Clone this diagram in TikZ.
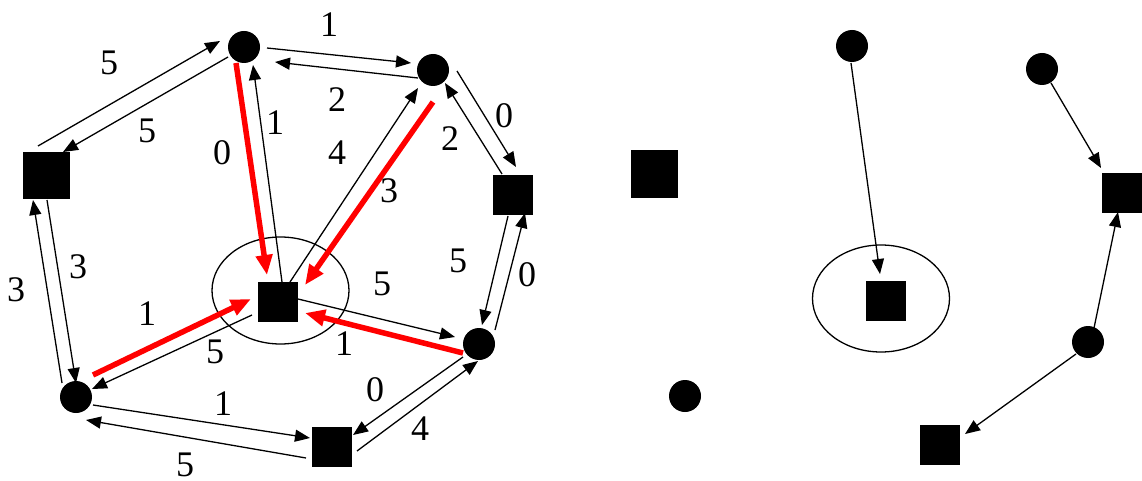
\documentclass[tikz,border=0pt]{standalone}
\usepackage{fontspec}
\setmainfont{Liberation Serif}
\newfontfamily\lblfont{Liberation Serif}
\usetikzlibrary{arrows.meta,calc,shapes.geometric}
\begin{document}
\begin{tikzpicture}[x=1pt,y=-1pt,
  circ/.style={circle,fill=black,inner sep=0pt,minimum size=32pt},
  sq/.style={rectangle,fill=black,inner sep=0pt,minimum size=40pt},
  bigsq/.style={sq,minimum size=47pt},
  ring/.style={ellipse,draw=black,line width=1.3pt,inner sep=0pt,minimum width=137pt,minimum height=107pt},
  arr/.style={line width=1.3pt,-{Triangle[length=15pt,width=12pt]}},
  redarr/.style={red,line width=5.5pt,-{Triangle[length=20pt,width=16pt]}},
  lbl/.style={font=\lblfont\fontsize{36}{36}\selectfont,inner sep=0pt}]
\useasboundingbox (0,0) rectangle (1142,481);

% ---------- left graph ----------
\node[circ] (A) at (244,47) {};
\node[circ] (B) at (433,70) {};
\node[sq] (C) at (513,195) {};
\node[circ] (D) at (479,344) {};
\node[sq] (E) at (331.5,446.5) {};
\node[circ] (F) at (76,397) {};
\node[bigsq] (G) at (46.5,175.5) {};
\node[sq] (H) at (278,302) {};
\node[ring] (HR) at (280.5,290.5) {};

\draw[arr] ($(G)+(-8.5,-29.5)$) -- ($(A)+(-24,-6)$);
\draw[arr] ($(A)+(-16,10)$) -- ($(G)+(16.5,-23.5)$);
\draw[arr] ($(A)+(23,1)$) -- ($(B)+(-22,-7)$);
\draw[arr] ($(B)+(-15,8)$) -- ($(A)+(31,15)$);
\draw[arr] ($(B)+(24,1)$) -- ($(C)+(3,-28)$);
\draw[arr] ($(C)+(-11,-21)$) -- ($(B)+(12,13)$);
\draw[arr] ($(C)+(-5,21)$) -- ($(D)+(3,-19)$);
\draw[arr] ($(D)+(16,-14)$) -- ($(C)+(12,18)$);
\draw[arr] ($(D)+(-16,13)$) -- ($(E)+(21.5,-11.5)$);
\draw[arr] ($(E)+(25.5,4.5)$) -- ($(D)+(-1,17)$);
\draw[arr] ($(F)+(17,8)$) -- ($(E)+(-21.5,-8.5)$);
\draw[arr] ($(E)+(-25.5,11.5)$) -- ($(F)+(10,23)$);
\draw[arr] ($(F)+(-14,-14)$) -- ($(G)+(-13.5,24.5)$);
\draw[arr] ($(G)+(0.5,24.5)$) -- ($(F)+(0,-14)$);

\draw[arr] ($(H)+(4,-20)$) -- ($(A)+(9,18)$);
\draw[arr] ($(H)+(12,-20)$) -- ($(B)+(-15,18)$);
\draw[arr] ($(H)+(20,-3)$) -- ($(D)+(-24,-7)$);
\draw[arr] ($(H)+(-26,13)$) -- ($(F)+(16,-8)$);

\draw[redarr] ($(A)+(-8,16)$) -- ($(H)+(-11,-27)$);
\draw[redarr] ($(B)+(0,32)$) -- ($(H)+(27,-17)$);
\draw[redarr] ($(D)+(-16,9)$) -- ($(H)+(27,11)$);
\draw[redarr] ($(F)+(17,-22)$) -- ($(H)+(-27,-3)$);

\node[lbl] (t1) at (109,63) {5};
\node[lbl] (t2) at (147,131) {5};
\node[lbl] (t3) at (329,25) {1};
\node[lbl] (t4) at (337,100) {2};
\node[lbl] (t5) at (504,116) {0};
\node[lbl] (t6) at (450,139) {2};
\node[lbl] (t7) at (458,261) {5};
\node[lbl] (t8) at (527,275) {0};
\node[lbl] (t9) at (375,390) {0};
\node[lbl] (t10) at (420,429) {4};
\node[lbl] (t11) at (223,404) {1};
\node[lbl] (t12) at (185,465) {5};
\node[lbl] (t13) at (16,290) {3};
\node[lbl] (t14) at (78,267) {3};
\node[lbl] (t15) at (222,153) {0};
\node[lbl] (t16) at (275,123) {1};
\node[lbl] (t17) at (337,153) {4};
\node[lbl] (t18) at (389,191) {3};
\node[lbl] (t19) at (382,284) {5};
\node[lbl] (t20) at (344,344) {1};
\node[lbl] (t21) at (147,314) {1};
\node[lbl] (t22) at (215,352) {5};

% ---------- right graph ----------
\node[bigsq] (RG) at (654.5,174) {};
\node[circ] (RA) at (852,46) {};
\node[circ] (RB) at (1042,69) {};
\node[sq] (RC) at (1122,193) {};
\node[circ] (RD) at (1088,342) {};
\node[sq] (RE) at (939.5,445) {};
\node[circ] (RF) at (685,396) {};
\node[sq] (RH) at (885.5,301) {};
\node[ring] (RR) at (881,298.5) {};

\draw[arr] ($(RA)+(-1,17)$) -- ($(RH)+(-5.5,-27)$);
\draw[arr] ($(RB)+(9,14)$) -- ($(RC)+(-21,-25)$);
\draw[arr] ($(RD)+(6,-14)$) -- ($(RC)+(-4,19)$);
\draw[arr] ($(RD)+(-12,12)$) -- ($(RE)+(25.5,-11)$);
\end{tikzpicture}
\end{document}
